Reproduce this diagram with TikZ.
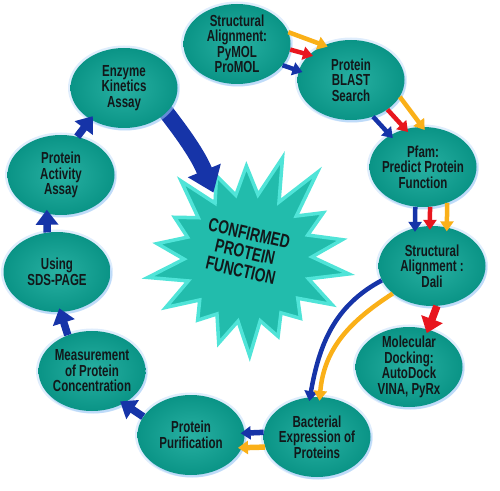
\documentclass[tikz,border=0pt]{standalone}
\usepackage{fontspec}
\setmainfont{Liberation Sans}[FakeStretch=0.72, BoldFeatures={FakeStretch=0.72}]
\usepackage{xcolor}
\definecolor{stageteal}{RGB}{10,148,134}
\definecolor{stagelight}{RGB}{40,176,162}
\definecolor{glowblue}{RGB}{150,196,245}
\definecolor{burstfill}{RGB}{34,188,172}
\definecolor{burstrim}{RGB}{80,228,216}
\definecolor{flowblue}{RGB}{22,52,168}
\definecolor{flowred}{RGB}{232,22,30}
\definecolor{floworange}{RGB}{250,176,24}
\definecolor{inkdark}{RGB}{18,24,26}
\usepackage{tikz}
\usetikzlibrary{arrows.meta, calc, shapes.geometric}
\pgfdeclarelayer{back}
\pgfsetlayers{back,main}

\begin{document}
\begin{tikzpicture}[x=1pt, y=1pt,
  stage/.style={ellipse, minimum width=107pt, minimum height=80pt, inner sep=-12pt,
    inner color=stagelight, outer color=stageteal, text=inkdark, align=center,
    font=\bfseries\fontsize{16}{15.5}\selectfont,
    preaction={fill=glowblue, opacity=0.45, transform canvas={shift={(1.5pt,-2.5pt)}}},
    preaction={draw=glowblue, line width=5pt, opacity=0.3}},
  burstlabel/.style={circle, minimum size=134pt, inner sep=0pt, text=inkdark,
    align=center, font=\bfseries\fontsize{19}{19}\selectfont},
  thinflow/.style={line width=4.5pt, shorten >=-4pt, -{Triangle[width=13pt,length=10pt]}},
  wideflow/.style={line width=7.5pt, shorten >=-4pt, -{Triangle[width=22pt,length=15pt]}},
  bigflow/.style={line width=16pt, shorten <=-10pt, -{Triangle[width=34pt,length=24pt]}}
]
  \useasboundingbox (0,0) rectangle (500,490);

  % Stages
  \node[stage] (pymol) at (237,446) {Structural\\Alignment:\\PyMOL\\ProMOL};
  \node[stage] (blast) at (351,410) {Protein\\BLAST\\Search};
  \node[stage] (pfam) at (423,323) {Pfam:\\Predict Protein\\Function};
  \node[stage] (dali) at (432,224) {Structural\\Alignment :\\Dali};
  \node[stage] (dock) at (409,123) {Molecular\\Docking:\\AutoDock\\VINA, PyRx};
  \node[stage] (bact) at (317,53) {Bacterial\\Expression of\\Proteins};
  \node[stage] (purif) at (191,55) {Protein\\Purification};
  \node[stage] (measure) at (92,119) {Measurement\\of Protein\\Concentration};
  \node[stage] (sds) at (57,218) {Using\\SDS-PAGE};
  \node[stage] (activity) at (61,315) {Protein\\Activity\\Assay};
  \node[stage] (enzyme) at (124,402) {Enzyme\\Kinetics\\Assay};

  % Burst in the middle
  \coordinate (burst) at (248,232);
  \begin{pgfonlayer}{back}
  \draw[draw=burstrim, fill=burstfill, line width=3.5pt, line join=miter]
    ($(burst)+(71:106)$)
    \foreach \r [count=\i from 0] in {106,92,88,102,84,92,102,96,80,90,98,84,80,96,102,96,88,110}
      { -- ($(burst)+({71+20*\i}:\r)$) -- ($(burst)+({81+20*\i}:64)$) } -- cycle;
  \end{pgfonlayer}
  \node[burstlabel, rotate=-13] (star) at (245,238) {CONFIRMED\\PROTEIN\\FUNCTION};

  % Big arrow into the burst
  \begin{pgfonlayer}{back}
  \draw[bigflow, flowblue] (enzyme.-30) to[bend left=8] (star.131);
  \end{pgfonlayer}

  % Triple arrows
  \draw[thinflow, floworange] (pymol.13) -- (blast.128);
  \draw[thinflow, flowred] (pymol.-6) -- (blast.149);
  \draw[thinflow, flowblue] (pymol.-25) -- (blast.170);

  \draw[thinflow, flowblue] (blast.-59) -- (pfam.136);
  \draw[thinflow, flowred] (blast.-39) -- (pfam.115);
  \draw[thinflow, floworange] (blast.-19) -- (pfam.91);

  \draw[thinflow, flowblue] (pfam.-101) -- (dali.114);
  \draw[thinflow, flowred] (pfam.-80) -- (dali.93);
  \draw[thinflow, floworange] (pfam.-56) -- (dali.69);

  % Docking branch
  \draw[wideflow, flowred] (dali.-83) -- (dock.63);

  % Expression branch
  \draw[thinflow, flowblue] (dali.196) to[out=208, in=80] (bact.100);
  \draw[thinflow, floworange] (dali.215) to[out=213, in=85] (bact.86);
  \draw[thinflow, line width=5.5pt, flowblue] (bact.175) -- (purif.2);
  \draw[thinflow, line width=5.5pt, floworange] (bact.191) -- (purif.-14);

  % Back up the left side
  \draw[wideflow, flowblue] (purif.159) -- (measure.-46);
  \draw[wideflow, flowblue] (measure.124) -- (sds.-85);
  \draw[wideflow, flowblue] (sds.104) -- (activity.-110);
  \draw[wideflow, flowblue] (activity.67) -- (enzyme.-137);

\end{tikzpicture}
\end{document}
